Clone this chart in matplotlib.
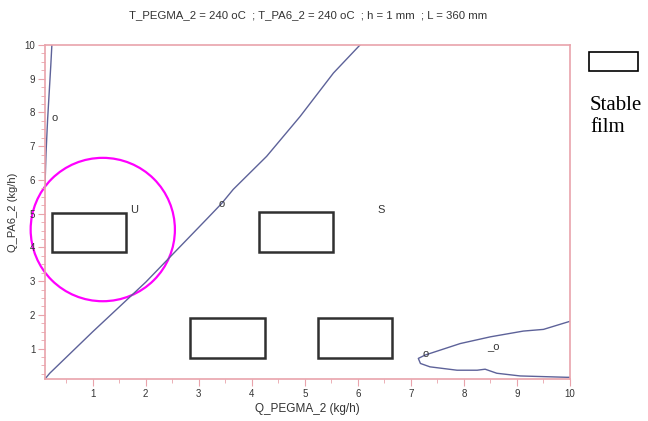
import matplotlib
matplotlib.use("Agg")
import matplotlib.pyplot as plt
from matplotlib.patches import Rectangle, Ellipse
from matplotlib.ticker import MultipleLocator

# contour lines
left_x = [0.10, 0.12, 0.15, 0.18, 0.21, 0.23]
left_y = [5.8, 6.8, 7.8, 8.6, 9.4, 10.0]

diag_x = [0.10, 0.19, 1.00, 2.00, 3.15, 3.43, 3.65, 4.28, 4.91, 5.54, 6.04]
diag_y = [0.10, 0.27, 1.50, 2.97, 4.84, 5.30, 5.72, 6.70, 7.88, 9.17, 10.0]

loop_x = [10.0, 9.5, 9.12, 8.5, 7.93, 7.27, 7.14, 7.18, 7.36, 7.87, 8.25, 8.40, 8.62, 9.06, 9.94, 10.0]
loop_y = [1.81, 1.57, 1.52, 1.35, 1.15, 0.81, 0.71, 0.56, 0.46, 0.36, 0.36, 0.39, 0.27, 0.19, 0.15, 0.15]

# stable film boxes: (x0, y0, x1, y1)
boxes = [(0.23, 3.87, 1.63, 5.03),
         (4.13, 3.87, 5.53, 5.05),
         (2.84, 0.71, 4.24, 1.91),
         (5.25, 0.71, 6.65, 1.91)]

labels = [("o", 0.28, 7.85), ("U", 1.78, 5.1), ("o", 3.43, 5.3),
          ("S", 6.44, 5.1), ("o", 7.28, 0.83), ("_o", 8.55, 1.06)]

title = "T_PEGMA_2 = 240 oC  ; T_PA6_2 = 240 oC  ; h = 1 mm  ; L = 360 mm"

pink = "#e9a3ab"
line_c = "#5d6299"
text_c = "#333333"

plt.rcParams['font.family'] = ['Liberation Sans', 'DejaVu Sans']

fig = plt.figure(figsize=(6.48, 4.21), dpi=100)
ax = fig.add_axes([0.0694, 0.0998, 0.8102, 0.7933])

ax.plot(left_x, left_y, color=line_c, lw=1)
ax.plot(diag_x, diag_y, color=line_c, lw=1)
ax.plot(loop_x, loop_y, color=line_c, lw=1)

for x0, y0, x1, y1 in boxes:
    ax.add_patch(Rectangle((x0, y0), x1 - x0, y1 - y0, fill=False,
                           edgecolor="#303030", lw=1.8))

for s, x, y in labels:
    ax.text(x, y, s, fontsize=8, color=text_c, ha="center", va="center")

ax.add_patch(Ellipse((1.19, 4.53), 2.72, 4.25, fill=False, edgecolor="#ff00ff",
                     lw=1.6, clip_on=False))

ax.set_xlim(0.1, 10)
ax.set_ylim(0.1, 10)
ax.xaxis.set_major_locator(MultipleLocator(1))
ax.xaxis.set_minor_locator(MultipleLocator(0.5))
ax.yaxis.set_major_locator(MultipleLocator(1))
ax.yaxis.set_minor_locator(MultipleLocator(0.25))
for sp in ax.spines.values():
    sp.set_color(pink)
    sp.set_linewidth(1.2)
ax.tick_params(which="major", length=5, color=pink, labelsize=7, labelcolor=text_c, pad=2)
ax.tick_params(which="minor", length=3, color=pink)

ax.set_xlabel("Q_PEGMA_2 (kg/h)", fontsize=8.5, color=text_c, labelpad=3)
ax.set_ylabel("Q_PA6_2 (kg/h)", fontsize=8, color=text_c, labelpad=5)

fig.text(0.476, 0.964, title, fontsize=8.2, color=text_c, ha="center", va="center")

# legend box at right
fig.patches.append(Rectangle((589 / 648, 1 - 71 / 421), 49 / 648, 19 / 421,
                             fill=False, edgecolor="black", lw=1.2,
                             transform=fig.transFigure, figure=fig))
fig.text(590 / 648, 1 - 96 / 421, "Stable\nfilm", fontsize=15,
         family="Liberation Serif", ha="left", va="top", linespacing=1.2)

fig.savefig("out.png", dpi=100)
